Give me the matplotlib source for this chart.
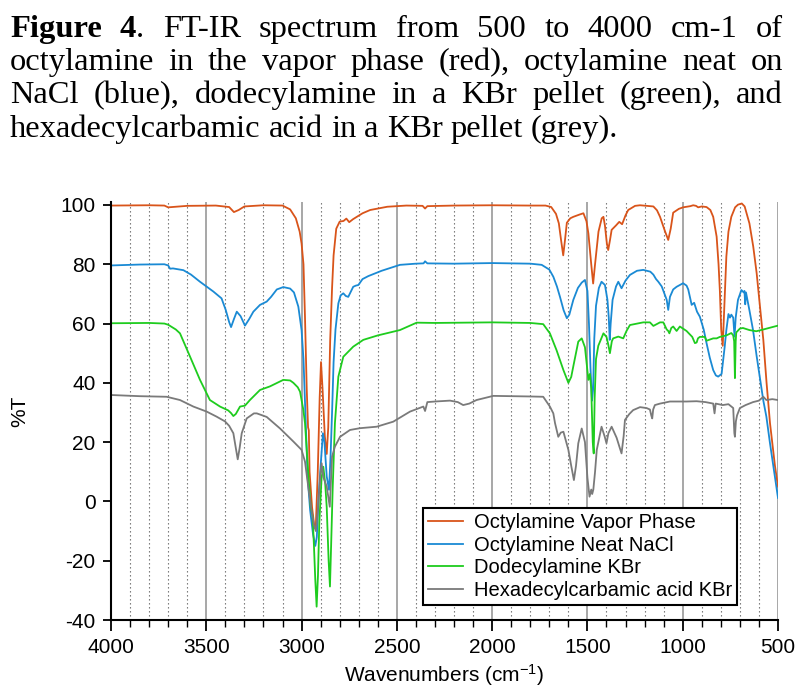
import matplotlib
matplotlib.use("Agg")
import matplotlib.pyplot as plt
from matplotlib.ticker import MultipleLocator

plt.rcParams['font.family'] = ['Liberation Sans', 'DejaVu Sans']
plt.rcParams['axes.unicode_minus'] = False
plt.rcParams['mathtext.fontset'] = 'custom'
plt.rcParams['mathtext.rm'] = 'Liberation Sans'
plt.rcParams['mathtext.default'] = 'regular'

# ---- spectra (wavenumber cm-1, %T) ----
wn_vap = [4000, 3800, 3720, 3700, 3680, 3600, 3450, 3380, 3355, 3330, 3300, 3200, 3100, 3060, 3030,
          3010, 3000, 2990, 2982, 2973, 2966, 2962, 2958, 2945, 2932, 2925, 2915, 2905, 2898, 2890,
          2878, 2868, 2860, 2850, 2840, 2832, 2818, 2800, 2780, 2765, 2750, 2730, 2710, 2680, 2640,
          2550, 2450, 2365, 2352, 2340, 2200, 2000, 1800, 1720, 1690, 1665, 1650, 1638, 1627, 1618,
          1608, 1590, 1574, 1540, 1521, 1505, 1495, 1480, 1470, 1460, 1442, 1425, 1416, 1408, 1398,
          1391, 1382, 1373, 1350, 1333, 1318, 1300, 1286, 1250, 1224, 1154, 1135, 1119, 1095, 1076,
          1063, 1050, 1020, 998, 960, 945, 930, 919, 900, 875, 855, 840, 822, 812, 805, 798, 790,
          784, 771, 760, 745, 725, 710, 690, 675, 650, 630, 612, 595, 577, 560, 542, 516, 500]
t_vap = [99.8, 99.9, 99.8, 99.2, 99.3, 99.7, 99.8, 99.3, 97.6, 98.3, 99.5, 99.9, 99.8, 98.5, 95.5,
         91, 87, 80, 62, 38, 25, 24, 10, -2, -9, -8, 10, 35, 47, 38,
         22, 16, 25, 54, 72, 83, 92, 94.4, 94.6, 95.4, 94.2, 95.2, 96, 97.2, 98.3,
         99.4, 99.8, 99.7, 98.8, 99.6, 99.8, 99.9, 99.8, 99.8, 99.3, 97, 93.8, 88, 83, 88,
         94, 95.5, 96, 96.8, 97.2, 94.5, 90.4, 80, 73.5, 80, 91, 95.5, 96, 93, 87,
         84.8, 88, 91.6, 93.1, 94.3, 93.5, 96.5, 98.3, 99.7, 99.9, 99.5, 98.2, 96, 91.5, 88.2,
         92, 97.4, 98.7, 99.2, 99.6, 99.9, 99.7, 99.2, 99.5, 99.3, 98.3, 96, 89.3, 80, 71, 58, 52.5,
         62, 82.6, 91, 96, 99.2, 100.1, 100.5, 99.5, 93.8, 86, 77, 66, 54.5, 40, 26.4, 12, 5]

wn_neat = [4000, 3850, 3720, 3700, 3690, 3675, 3620, 3580, 3533, 3463, 3420, 3398, 3380, 3370, 3355,
           3340, 3320, 3297, 3275, 3253, 3218, 3183, 3160, 3130, 3096, 3060, 3040, 3017, 3000, 2990,
           2978, 2968, 2955, 2940, 2928, 2920, 2910, 2900, 2888, 2880, 2868, 2856, 2848, 2840, 2832,
           2822, 2807, 2795, 2781, 2768, 2755, 2740, 2729, 2715, 2702, 2680, 2650, 2580, 2484, 2400,
           2360, 2352, 2340, 2200, 2000, 1800, 1740, 1700, 1679, 1660, 1644, 1625, 1608, 1595, 1574,
           1550, 1530, 1513, 1500, 1492, 1484, 1476, 1470, 1464, 1455, 1440, 1426, 1408, 1395, 1388,
           1383, 1378, 1368, 1350, 1338, 1321, 1300, 1277, 1240, 1207, 1170, 1154, 1140, 1128, 1110,
           1090, 1084, 1076, 1067, 1050, 1032, 998, 980, 971, 953, 940, 925, 910, 890, 875, 858, 840,
           826, 814, 796, 780, 771, 760, 752, 745, 735, 728, 722, 710, 692, 680, 676, 672, 668, 650,
           631, 612, 596, 577, 561, 542, 520, 500]
t_neat = [79.6, 79.9, 80.0, 79.6, 78.5, 78.6, 78, 76.5, 74.1, 70.8, 68.5, 64.6, 60.5, 58.8, 61.5,
          64, 62.5, 59.3, 61.5, 64, 66.3, 67.4, 69, 71.5, 72.3, 71.8, 70.5, 65.7, 57.8, 48,
          26.4, 8, -3, -11, -15, -12, 2, 12, 23, 20, 8.4, 3.9, 15, 30, 47,
          58, 66.8, 69.5, 70.2, 69.3, 69, 71, 72.4, 72.8, 73, 75, 76, 77.8, 79.8, 80.2,
          80.3, 81, 80.3, 80.2, 80.4, 80.2, 79.8, 78.2, 75.8, 72.5, 69, 64.5, 61.8, 63, 68,
          72, 73.8, 74.7, 71, 60, 45, 34, 38, 55, 66, 72, 74.1, 73, 68, 62,
          54.5, 60, 68, 72.5, 74.1, 71.9, 74.5, 76.4, 77.8, 78.1, 77.5, 76.5, 75, 74.1, 72.5,
          69, 68, 64.6, 69, 71.5, 72.4, 73.6, 72.8, 71.5, 66.3, 67, 64, 62.3, 58, 53.4, 48.5, 44.3,
          42.5, 42.1, 43, 52, 57.8, 63.2, 62, 63, 62, 55.6, 62, 68, 71.3, 70.5, 71, 66.5, 70.5, 64.5,
          57.8, 49, 42.1, 34, 28.6, 19.6, 10, 1.2]

wn_dodec = [4000, 3800, 3720, 3700, 3660, 3638, 3585, 3533, 3481, 3428, 3385, 3370, 3358, 3345, 3323,
            3297, 3271, 3218, 3166, 3096, 3060, 3043, 3020, 3008, 2991, 2982, 2965, 2952, 2942, 2935,
            2928, 2921, 2914, 2907, 2895, 2886, 2876, 2868, 2858, 2851, 2845, 2837, 2825, 2807, 2781,
            2729, 2676, 2600, 2484, 2396, 2300, 2000, 1800, 1732, 1697, 1662, 1626, 1600, 1585, 1574,
            1548, 1530, 1513, 1495, 1487, 1480, 1472, 1467, 1462, 1455, 1443, 1416, 1400, 1391, 1382,
            1372, 1365, 1338, 1312, 1295, 1277, 1207, 1172, 1154, 1119, 1102, 1084, 1076, 1070, 1060,
            1050, 1032, 1015, 980, 950, 936, 927, 920, 910, 884, 875, 840, 822, 805, 771, 745, 735,
            730, 726, 722, 719, 700, 684, 650, 614, 577, 530, 500]
t_dodec = [60.1, 60.2, 60, 59.6, 58, 56.7, 48.8, 41, 34.2, 32, 30.7, 29.8, 28.8, 29.5, 32,
           32.3, 34.2, 37.6, 38.8, 41, 40.8, 40, 38.5, 37, 31, 26.4, 9.6, -2, -5, -15,
           -26.5, -35.5, -25, -7.3, 8, 11.7, 6, -2, -20, -28.7, -15, 3.9, 26.4, 42.1, 48.8,
           52.2, 54.5, 56, 57.8, 60.3, 60.2, 60.4, 60.2, 59.8, 56.7, 51, 44.3, 40, 42, 45.6,
           53.9, 55, 52, 41, 43, 38, 20, 16.2, 35, 48, 52.5, 56.7, 55.5, 53, 50,
           54, 55, 55.6, 55, 57.5, 59.5, 60.4, 60.4, 59.2, 60.4, 60.4, 58, 57.5, 56.7, 58.5,
           59, 57.5, 59, 57.5, 55.5, 53.4, 53.6, 55, 55.5, 55.5, 54.2, 55, 55, 55.5, 56, 56.8, 56,
           54, 41.6, 54, 57, 58.3, 58.5, 57.8, 57.4, 58, 58.8, 59.3]

wn_carb = [4000, 3850, 3708, 3638, 3568, 3498, 3446, 3402, 3380, 3358, 3345, 3335, 3325, 3314, 3288,
           3250, 3235, 3183, 3113, 3043, 3000, 2982, 2965, 2950, 2935, 2925, 2915, 2900, 2895, 2885,
           2868, 2852, 2845, 2840, 2825, 2798, 2746, 2694, 2606, 2519, 2431, 2361, 2352, 2340, 2300,
           2221, 2180, 2152, 2120, 2082, 1994, 1800, 1732, 1697, 1679, 1670, 1653, 1640, 1626, 1600,
           1585, 1571, 1560, 1548, 1530, 1513, 1500, 1489, 1480, 1475, 1469, 1460, 1451, 1426, 1410,
           1400, 1390, 1373, 1347, 1330, 1321, 1310, 1303, 1280, 1260, 1224, 1190, 1172, 1165, 1160,
           1155, 1146, 1119, 1067, 980, 927, 880, 840, 833, 827, 790, 760, 735, 729, 726, 721, 715,
           700, 670, 631, 600, 577, 561, 530, 500]
t_carb = [35.9, 35.5, 35.3, 34.2, 32, 30.3, 28.6, 27, 25.5, 23, 18, 14.2, 18, 23, 28,
          29.7, 29.7, 28.5, 24.6, 20.2, 17.4, 13.4, 5, -2, -8, -10, -3, 10, 12.9, 8,
          5, -1.8, 8, 15.1, 18.5, 21.8, 24.1, 24.7, 25.2, 26.9, 30.3, 32, 30.5, 33.5, 33.7,
          34, 33.5, 32.5, 33, 34.2, 35.6, 35.4, 35.3, 32, 29.7, 26.4, 21.8, 23.2, 23.5, 17.4,
          12, 7.2, 12, 19.6, 24.6, 20, 8, 1.6, 4, 2.5, 4, 10, 17.4, 25.2, 22,
          19.6, 23, 25.2, 21.5, 18, 16.2, 22, 27.5, 29.5, 30.8, 31.8, 31.5, 31, 29, 28,
          31, 32.5, 33, 33.7, 33.7, 33.8, 33.5, 33, 29.7, 33, 32.5, 32.8, 31.5, 23, 21.8, 27, 29,
          31.5, 32.5, 33.5, 34, 35.3, 34.2, 34.5, 34.2]

labels = ['Octylamine Vapor Phase', 'Octylamine Neat NaCl', 'Dodecylamine KBr',
          'Hexadecylcarbamic acid KBr']
colors = ['#D9541A', '#1A8AD4', '#1ECC1E', '#7A7A7A']

caption = ["Figure 4. FT-IR spectrum from 500 to 4000 cm-1 of",
           "octylamine in the vapor phase (red), octylamine neat on",
           "NaCl (blue), dodecylamine in a KBr pellet (green), and",
           "hexadecylcarbamic acid in a KBr pellet (grey)."]

W, H = 798, 690
fig = plt.figure(figsize=(W / 100, H / 100), dpi=100)
ax = fig.add_axes([111 / W, 1 - 620 / H, 667 / W, 418 / H])

series = [(wn_vap, t_vap), (wn_neat, t_neat), (wn_dodec, t_dodec), (wn_carb, t_carb)]
for (x, y), c, lab in zip(series, colors, labels):
    ax.plot(x, y, color=c, lw=1.3, label=lab)

ax.set_xlim(4000, 500)
ax.set_ylim(-40, 101)
ax.xaxis.set_major_locator(MultipleLocator(500))
ax.xaxis.set_minor_locator(MultipleLocator(100))
ax.yaxis.set_major_locator(MultipleLocator(20))
ax.grid(axis='x', which='major', color='#a0a0a0', lw=1.3)
ax.grid(axis='x', which='minor', color='#666666', lw=0.8, ls=(0, (1.2, 2.4)))
ax.set_axisbelow(True)
for s in ['top', 'right']:
    ax.spines[s].set_visible(False)
for s in ['left', 'bottom']:
    ax.spines[s].set_linewidth(1.5)
ax.tick_params(axis='both', which='major', direction='out', width=1.3, labelsize=15)
ax.tick_params(axis='x', which='major', length=8, pad=5)
ax.tick_params(axis='x', which='minor', length=5, width=1.0)
ax.tick_params(axis='y', which='major', length=6, pad=5)

ax.set_xlabel('Wavenumbers (cm$^{-1}$)', fontsize=15)
ax.xaxis.set_label_coords(0.5, -0.100)
ax.set_ylabel('%T', fontsize=15)
ax.yaxis.set_label_coords(-0.123, 0.5)

leg = ax.legend(loc='lower left', bbox_to_anchor=(0.468, 0.036), borderaxespad=0,
                fontsize=14.5, fancybox=False, edgecolor='black', framealpha=1,
                handlelength=1.75, handletextpad=0.5, labelspacing=0.18, borderpad=0.25)
leg.get_frame().set_linewidth(1.5)

# ---- caption, justified like the source text ----
renderer = fig.canvas.get_renderer()
cap_size = 23.4
left, right = 10, 783
baselines = [36.7, 70, 103.3, 136.7]


def segments(word, line_no):
    if line_no == 0 and word == "Figure":
        return [("Figure", "bold")]
    if line_no == 0 and word == "4.":
        return [("4", "bold"), (".", "normal")]
    return [(word, "normal")]


for i, line in enumerate(caption):
    words = []
    for w in line.split():
        parts = []
        for s, wt in segments(w, i):
            t = fig.text(0, 0, s, fontsize=cap_size, family='Liberation Serif',
                         weight=wt, va='baseline', ha='left')
            parts.append((t, t.get_window_extent(renderer).width))
        words.append(parts)
    widths = [sum(p[1] for p in parts) for parts in words]
    if i < len(caption) - 1:
        gap = (right - left - sum(widths)) / (len(words) - 1)
    else:
        gap = cap_size * 100 / 72 * 0.25
    x = left
    for parts, ww in zip(words, widths):
        xx = x
        for t, tw in parts:
            t.set_position((xx / W, 1 - baselines[i] / H))
            xx += tw
        x += ww + gap

fig.savefig('out.png', dpi=100)
